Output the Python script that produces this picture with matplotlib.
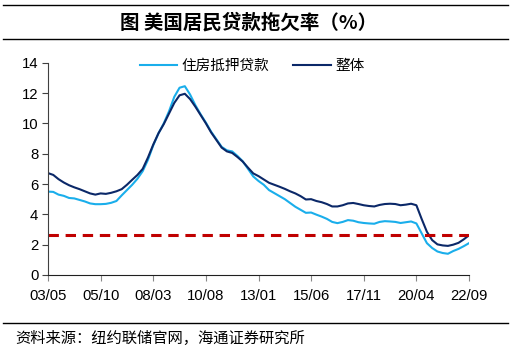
import matplotlib
matplotlib.use("Agg")
import matplotlib.pyplot as plt
from matplotlib.lines import Line2D
import numpy as np

plt.rcParams['font.family'] = ['Liberation Sans', 'Noto Sans CJK SC', 'DejaVu Sans']

tick_labels = ["03/05", "05/10", "08/03", "10/08", "13/01", "15/06", "17/11", "20/04", "22/09"]

overall = [6.72, 6.6, 6.32, 6.1, 5.92, 5.78, 5.66, 5.52, 5.38, 5.3,
           5.38, 5.35, 5.42, 5.52, 5.66, 5.95, 6.28, 6.6, 7.0, 7.75,
           8.6, 9.35, 9.95, 10.65, 11.35, 11.85, 11.95, 11.6, 11.1, 10.55,
           10.0, 9.4, 8.9, 8.4, 8.15, 8.05, 7.78, 7.48, 7.08, 6.7,
           6.52, 6.3, 6.08, 5.95, 5.82, 5.68, 5.52, 5.38, 5.2, 4.98,
           5.0, 4.88, 4.8, 4.68, 4.52, 4.52, 4.6, 4.72, 4.75, 4.68,
           4.6, 4.55, 4.52, 4.62, 4.68, 4.7, 4.68, 4.6, 4.64, 4.7,
           4.6, 3.7, 2.85, 2.3, 2.02, 1.95, 1.92, 2.0, 2.12, 2.35,
           2.62]

mortgage = [5.5, 5.48, 5.3, 5.22, 5.08, 5.05, 4.95, 4.85, 4.72, 4.67,
            4.67, 4.69, 4.76, 4.88, 5.25, 5.6, 5.95, 6.35, 6.85, 7.6,
            8.55, 9.35, 10.0, 10.8, 11.75, 12.35, 12.45, 11.9, 11.2, 10.6,
            10.05, 9.45, 8.95, 8.45, 8.22, 8.15, 7.85, 7.5, 7.0, 6.5,
            6.2, 5.95, 5.6, 5.4, 5.2, 5.0, 4.75, 4.5, 4.3, 4.1,
            4.12, 3.98, 3.85, 3.7, 3.5, 3.42, 3.5, 3.62, 3.58, 3.48,
            3.43, 3.4, 3.38, 3.5, 3.55, 3.53, 3.5, 3.43, 3.48, 3.53,
            3.4, 2.75, 2.1, 1.78, 1.55, 1.45, 1.4, 1.58, 1.72, 1.9,
            2.1]

threshold = 2.65

series_names = ["住房抵押贷款", "整体"]
title = "图 美国居民贷款拖欠率（%）"
source = "资料来源：纽约联储官网，海通证券研究所"

x = np.arange(len(overall))
n = len(overall) - 1
tick_pos = np.linspace(0, n, len(tick_labels))

fig = plt.figure(figsize=(5.27, 3.51), dpi=100)
ax = fig.add_axes([48/527, 1-275/351, (469-48)/527, (275-62.7)/351])

light = "#1AAEEB"
dark = "#0B2868"
ax.plot(x, mortgage, color=light, lw=1.5, label=series_names[0])
ax.plot(x, overall, color=dark, lw=1.5, label=series_names[1])
ax.plot([0, n], [threshold, threshold], color="#C00000", lw=2.2, dashes=(3.4, 2.2))

ax.set_xlim(0, n)
ax.set_ylim(0, 14)
ax.set_yticks(np.arange(0, 15, 2))
ax.set_xticks(tick_pos)
ax.set_xticklabels(tick_labels)
for s in ["top", "right"]:
    ax.spines[s].set_visible(False)
ax.spines["left"].set_color("#404040")
ax.spines["bottom"].set_color("#202020")
ax.tick_params(axis="y", labelsize=10.7, length=4, color="#404040", pad=3)
ax.tick_params(axis="x", labelsize=10.7, length=4, color="#888888", pad=6)

leg = fig.legend(loc="center", bbox_to_anchor=(252/527, 1-66/351), ncol=2, frameon=False,
                 prop={"family": ["Noto Sans CJK SC"], "size": 10.5},
                 handlelength=2.6, handletextpad=0.3, columnspacing=1.6)

fig.text(249/527, 1-23/351, title, ha="center", va="center",
         fontsize=14, fontweight="bold", family=["Noto Sans CJK SC", "DejaVu Sans"])
fig.text(15/527, 1-338.5/351, source, ha="left", va="center",
         fontsize=11, family=["Noto Sans CJK SC", "DejaVu Sans"])

for yy in [5, 39, 323]:
    fig.add_artist(Line2D([3/527, 508/527], [1-yy/351, 1-yy/351], color="black", lw=1.0,
                          transform=fig.transFigure))

fig.savefig("out.png", dpi=100)
